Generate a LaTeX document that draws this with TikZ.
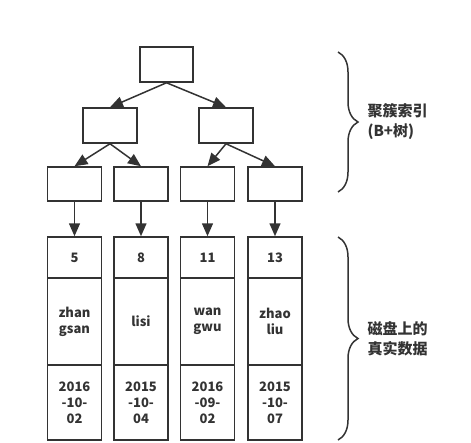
\documentclass[tikz,border=0pt]{standalone}
\usepackage{fontspec}
\setmainfont{Noto Sans CJK SC}
\usetikzlibrary{arrows.meta,decorations.pathreplacing}
\definecolor{inkgray}{HTML}{333333}
\begin{document}
\begin{tikzpicture}[x=1pt,y=-1pt,
    box/.style={draw=inkgray,line width=1.5pt,minimum width=54pt,inner sep=0pt,text=inkgray,align=center,font=\bfseries\fontsize{13}{16}\selectfont},
    link/.style={draw=inkgray,line width=1.5pt,-{Triangle[length=13pt,width=11pt]}},
    curly/.style={draw=inkgray,line width=1.5pt,decorate,decoration={brace,amplitude=20pt}},
    side/.style={text=inkgray,align=left,anchor=west,font=\bfseries\fontsize{15}{20}\selectfont}]
                \useasboundingbox (0,0) rectangle (471,442);
                % index tree
                \node[box,minimum width=53pt,minimum height=35pt] (root) at (166.5,64.5) {};
                \node[box,minimum height=35pt] (left) at (110,125.5) {};
                \node[box,minimum height=35pt] (right) at (226,125.5) {};
                \node[box,minimum height=34pt] (leaf1) at (74.5,184) {};
                \node[box,minimum height=34pt] (leaf2) at (141,184) {};
                \node[box,minimum height=34pt] (leaf3) at (207.5,184) {};
                \node[box,minimum height=34pt] (leaf4) at (275,184) {};
                \draw[link] (root.south) -- (left.north);
                \draw[link] (root.south) -- (right.north);
                \draw[link] (left.south) -- (leaf1.north);
                \draw[link] (left.south) -- (leaf2.north);
                \draw[link] (right.south) -- (leaf3.north);
                \draw[link] (right.south) -- (leaf4.north);
                % rows on disk
                \node[box,minimum height=41pt] (key1) at (74.5,257.5) {5};
                \node[box,minimum height=87pt] (name1) at (74.5,321.5) {zhan\\gsan};
                \node[box,minimum height=75pt] (date1) at (74.5,402.5) {2016\\-10-\\02};
                \node[box,minimum height=41pt] (key2) at (141,257.5) {8};
                \node[box,minimum height=87pt] (name2) at (141,321.5) {lisi};
                \node[box,minimum height=75pt] (date2) at (141,402.5) {2015\\-10-\\04};
                \node[box,minimum height=41pt] (key3) at (207.5,257.5) {11};
                \node[box,minimum height=87pt] (name3) at (207.5,321.5) {wan\\gwu};
                \node[box,minimum height=75pt] (date3) at (207.5,402.5) {2016\\-09-\\02};
                \node[box,minimum height=41pt] (key4) at (275,257.5) {13};
                \node[box,minimum height=87pt] (name4) at (275,321.5) {zhao\\liu};
                \node[box,minimum height=75pt] (date4) at (275,402.5) {2015\\-10-\\07};
                \draw[link] (leaf1.south) -- (key1.north);
                \draw[link] (leaf2.south) -- (key2.north);
                \draw[link] (leaf3.south) -- (key3.north);
                \draw[link] (leaf4.south) -- (key4.north);
                % braces and labels
                \coordinate (treetop) at (338,52);
                \coordinate (treebot) at (338,192);
                \coordinate (disktop) at (338,237);
                \coordinate (diskbot) at (338,440);
                \draw[curly] (treetop) -- (treebot);
                \draw[curly] (disktop) -- (diskbot);
                \node[side] (treelabel) at (364,122) {聚簇索引\\(B+树)};
                \node[side] (disklabel) at (364,339) {磁盘上的\\真实数据};
            \end{tikzpicture}
\end{document}
